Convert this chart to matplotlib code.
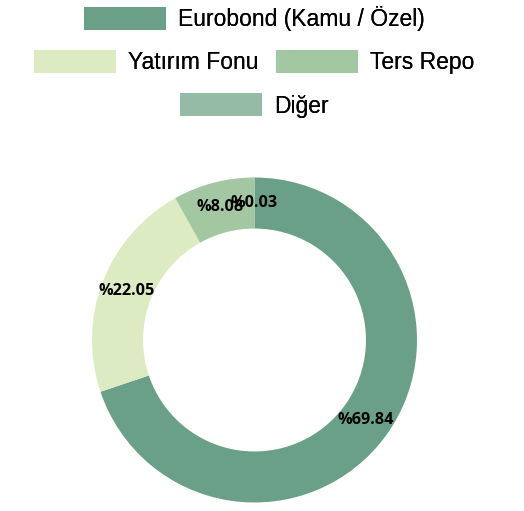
import matplotlib.pyplot as plt

# Portfolio breakdown (%)
labels = ["Eurobond (Kamu / Özel)", "Yatırım Fonu", "Ters Repo", "Diğer"]
values = [69.84, 22.05, 8.08, 0.03]
colors = ["#6ba088", "#ddebc3", "#a3c7a0", "#94bba6"]

fig = plt.figure(figsize=(5.24, 5.11), dpi=100)

# donut axes: centre (254.5, 340 from top), radius ~162.5 px
W, H = 524, 511
cx, cy, r = 254.5, H - 340, 162.5
ax = fig.add_axes([(cx - r) / W, (cy - r) / H, 2 * r / W, 2 * r / H])

wedges, texts, autotexts = ax.pie(
    values, colors=colors, startangle=90, counterclock=False,
    radius=1.0, wedgeprops=dict(width=0.314, linewidth=0),
    autopct=lambda p: "%" + f"{p:.2f}", pctdistance=0.845)
for t in autotexts:
    t.set_fontfamily("Open Sans")
    t.set_fontweight("bold")
    t.set_fontsize(11.7)
    t.set_color("black")
ax.set_xlim(-1, 1)
ax.set_ylim(-1, 1)
ax.set_aspect("equal")

# legend laid out in 3 centred rows
rows = [([0], 254, 18.5), ([1, 2], 254, 62), ([3], 254, 105.5)]
for idx, x, y in rows:
    leg = fig.legend([wedges[i] for i in idx], [labels[i] for i in idx],
                     loc="center", bbox_to_anchor=(x / W, 1 - y / H),
                     ncol=len(idx), frameon=False,
                     prop=dict(family="Liberation Sans", size=16.5),
                     handlelength=3.58, handleheight=1.14, handletextpad=0.52,
                     columnspacing=0.79, borderpad=0, borderaxespad=0)
    fig.add_artist(leg)

fig.savefig("out.png", dpi=100)
